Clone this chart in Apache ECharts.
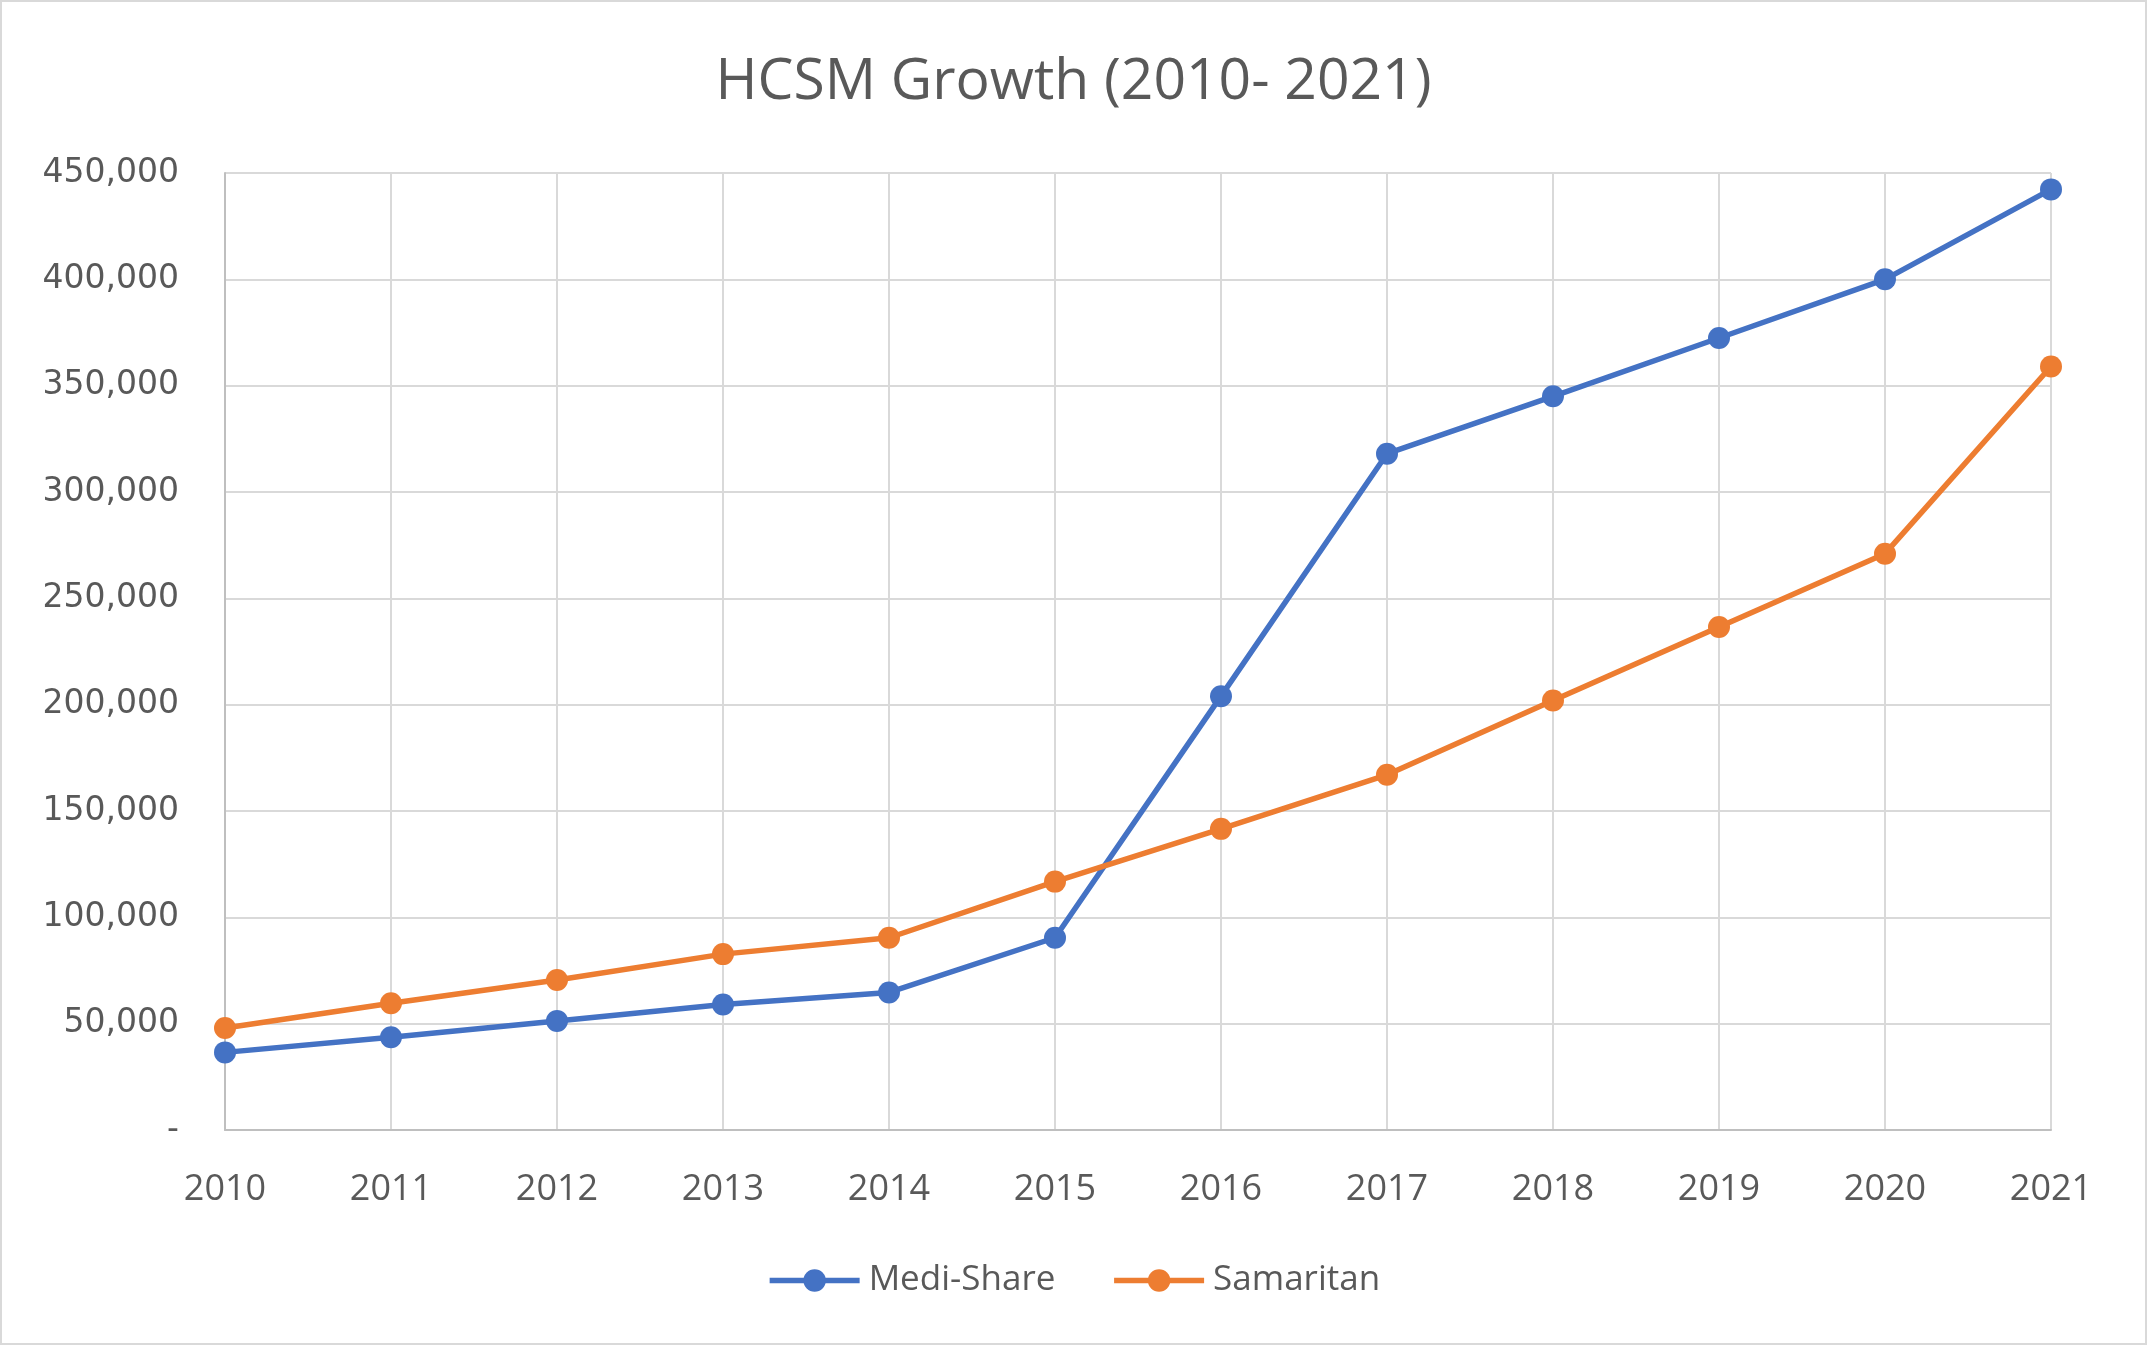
<!DOCTYPE html>
<html>
<head>
<meta charset="utf-8">
<script src="https://cdn.jsdelivr.net/npm/echarts@6/dist/echarts.min.js"></script>
<style>
  html, body { margin: 0; padding: 0; background: #fff; }
  #chart { width: 2147px; height: 1345px; box-sizing: border-box; border: 2px solid #d9d9d9; }
</style>
</head>
<body>
<div id="chart"></div>
<script>
const years = ['2010','2011','2012','2013','2014','2015','2016','2017','2018','2019','2020','2021'];
const mediShare = [36500, 43600, 51300, 59000, 64700, 90400, 204000, 318000, 345000, 372400, 400000, 442300];
const samaritan = [48000, 59600, 70500, 82700, 90400, 116800, 141600, 167000, 202000, 236500, 271000, 359000];
const yTicks = [0, 50000, 100000, 150000, 200000, 250000, 300000, 350000, 400000, 450000];

const chart = echarts.init(document.getElementById('chart'), null, { renderer: 'canvas' });
const textColor = '#595959';
const font = '"Open Sans", sans-serif';

chart.setOption({
  backgroundColor: '#fff',
  animation: false,
  title: {
    text: 'HCSM Growth (2010- 2021)',
    left: 'center',
    top: 47,
    textStyle: { fontFamily: font, fontSize: 57, fontWeight: 'normal', color: textColor }
  },
  legend: {
    bottom: 40,
    left: 'center',
    itemWidth: 90,
    itemHeight: 28,
    itemGap: 56,
    lineStyle: { width: 5.5 },
    textStyle: { fontFamily: font, fontSize: 35, color: textColor, padding: [0, 0, 0, 4] },
    data: ['Medi-Share', 'Samaritan']
  },
  grid: { left: 223, right: 94, top: 171, bottom: 213, containLabel: false },
  xAxis: {
    type: 'category',
    data: years,
    boundaryGap: false,
    axisLine: { lineStyle: { color: '#bfbfbf', width: 2 } },
    axisTick: { show: false },
    axisLabel: { fontFamily: font, fontSize: 36, color: textColor, margin: 42 },
    splitLine: { show: true, lineStyle: { color: '#d9d9d9', width: 2 } }
  },
  yAxis: {
    type: 'value',
    min: yTicks[0],
    max: yTicks[yTicks.length - 1],
    interval: 50000,
    axisLine: { show: true, lineStyle: { color: '#bfbfbf', width: 2 } },
    axisTick: { show: false },
    axisLabel: {
      fontFamily: '"DejaVu Sans", sans-serif', fontSize: 33, color: textColor, margin: 46,
      formatter: v => v === 0 ? '-' : v.toLocaleString('en-US')
    },
    splitLine: { lineStyle: { color: '#d9d9d9', width: 2 } }
  },
  series: [
    {
      name: 'Medi-Share', type: 'line', data: mediShare,
      symbol: 'circle', symbolSize: 22,
      lineStyle: { color: '#4472C4', width: 5.5 },
      itemStyle: { color: '#4472C4' }
    },
    {
      name: 'Samaritan', type: 'line', data: samaritan,
      symbol: 'circle', symbolSize: 22,
      lineStyle: { color: '#ED7D31', width: 5.5 },
      itemStyle: { color: '#ED7D31' }
    }
  ]
});
</script>
</body>
</html>
